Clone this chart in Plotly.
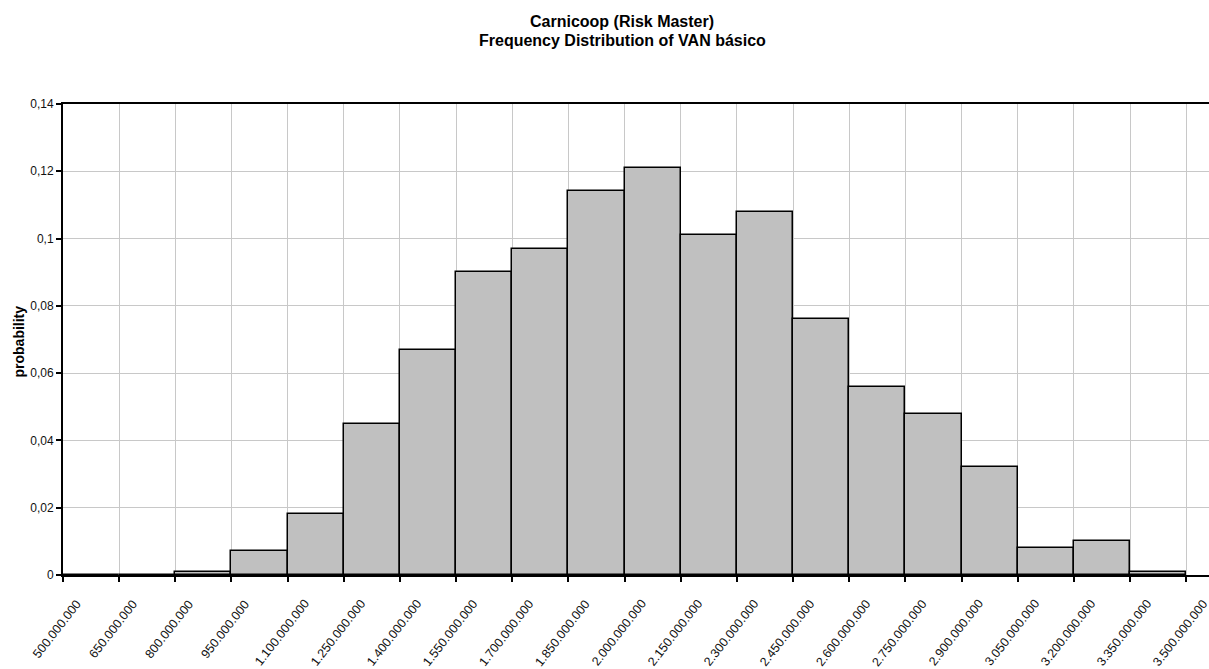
import plotly.graph_objects as go

# Bin edges of the VAN distribution (150.000.000 wide bins)
bin_edges = [500e6, 650e6, 800e6, 950e6, 1100e6, 1250e6, 1400e6, 1550e6, 1700e6,
             1850e6, 2000e6, 2150e6, 2300e6, 2450e6, 2600e6, 2750e6, 2900e6,
             3050e6, 3200e6, 3350e6, 3500e6]

# Probability of each bin
probability = [0.0, 0.0, 0.001, 0.007, 0.018, 0.045, 0.067, 0.090, 0.097, 0.114,
               0.121, 0.101, 0.108, 0.076, 0.056, 0.048, 0.032, 0.008, 0.010, 0.001]

title_lines = ["Carnicoop (Risk Master)", "Frequency Distribution of VAN básico"]
y_title = "probability"

bin_width = bin_edges[1] - bin_edges[0]
bin_centers = [lo + bin_width / 2 for lo in bin_edges[:-1]]

FONT = "Liberation Sans, Arial, sans-serif"


def fmt_thousands(v):
    # 500000000 -> "500.000.000"
    return f"{int(round(v)):,}".replace(",", ".")


fig = go.Figure(
    go.Bar(
        x=bin_centers,
        y=probability,
        width=bin_width,
        marker=dict(color="#C0C0C0", line=dict(color="#000000", width=1.5)),
        hoverinfo="x+y",
    )
)

fig.update_layout(
    width=1209,
    height=669,
    margin=dict(l=63, r=0, t=104, b=94),
    paper_bgcolor="white",
    plot_bgcolor="white",
    separators=",.",
    showlegend=False,
    bargap=0,
    font=dict(family=FONT, color="#000000"),
)

fig.update_xaxes(
    range=[500e6, 3561e6],
    tickmode="array",
    tickvals=bin_edges,
    showticklabels=False,
    ticks="outside",
    ticklen=5,
    tickwidth=1.5,
    tickcolor="#000000",
    showline=True,
    linecolor="#000000",
    linewidth=2,
    mirror=True,
    showgrid=True,
    gridcolor="#C8C8C8",
    gridwidth=1,
    zeroline=False,
)

fig.update_yaxes(
    range=[0, 0.14],
    tick0=0,
    dtick=0.02,
    tickfont=dict(family=FONT, size=12, color="#111111"),
    ticks="outside",
    ticklen=5,
    tickwidth=1.5,
    tickcolor="#000000",
    showline=True,
    linecolor="#000000",
    linewidth=2,
    showgrid=True,
    gridcolor="#C8C8C8",
    gridwidth=1,
    zeroline=False,
)

# Slanted category labels, centred just left of each bin edge
for edge in bin_edges:
    fig.add_annotation(
        text=fmt_thousands(edge),
        xref="x", yref="y",
        x=edge, y=0,
        xanchor="center", yanchor="top",
        xshift=-6, yshift=-19,
        textangle=-52,
        showarrow=False,
        font=dict(family=FONT, size=12.5, color="#111111"),
    )

# Vertical axis title
fig.add_annotation(
    text=f"<b>{y_title}</b>",
    xref="paper", yref="paper",
    x=0, y=0.5,
    xanchor="center", yanchor="middle",
    xshift=-45, yshift=-2,
    textangle=-90,
    showarrow=False,
    font=dict(family=FONT, size=14, color="#000000"),
)

# Two-line chart title
for i, line in enumerate(title_lines):
    fig.add_annotation(
        text=f"<b>{line}</b>",
        xref="paper", yref="paper",
        x=0.488, y=1,
        xanchor="center", yanchor="middle",
        yshift=83 - 19 * i,
        showarrow=False,
        font=dict(family=FONT, size=16, color="#000000"),
    )

fig.write_html("out.html")
